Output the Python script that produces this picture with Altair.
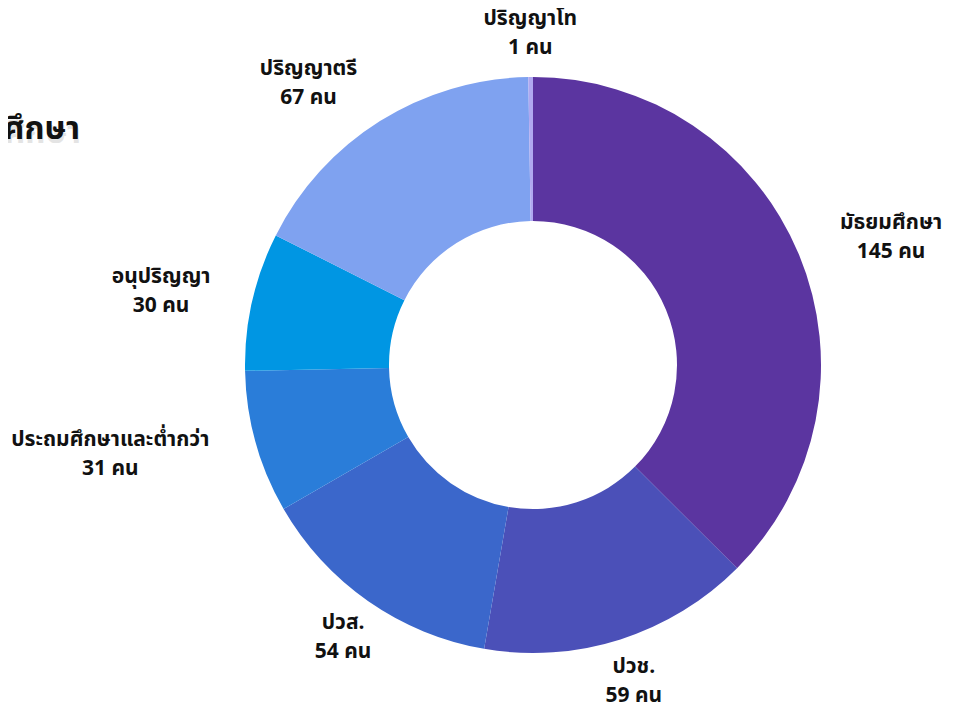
import unicodedata
import altair as alt
import pandas as pd

# ---- data ----
categories = ["มัธยมศึกษา", "ปวช.", "ปวส.", "ประถมศึกษาและต่ำกว่า", "อนุปริญญา", "ปริญญาตรี", "ปริญญาโท"]
counts = [145, 59, 54, 31, 30, 67, 1]
colors = ["#5b35a0", "#4b50b8", "#3b67cb", "#2a7dd9", "#0096e3", "#7fa2f0", "#b0a8f0"]
unit = "คน"
title_text = "ระดับการศึกษา"

FONT_SIZE = 21
LINE_H = 29


def est_width(line):
    """Rough rendered width of a text line (for centring lines inside a label block)."""
    w = 0.0
    for ch in line:
        if unicodedata.category(ch) == "Mn":
            continue
        if ch.isdigit():
            w += 11.0
        elif ch == " ":
            w += 5.5
        elif ch in "าะำ.":
            w += 8.5
        elif ch == "ญ":
            w += 16.0
        else:
            w += 12.8
    return w * FONT_SIZE / 20.0


df = pd.DataFrame({"cat": categories, "n": counts, "idx": list(range(len(categories)))})
df["label"] = [f"{c}\n{n} {unit}" for c, n in zip(categories, counts)]
df["w"] = [max(est_width(s) for s in lab.split("\n")) for lab in df["label"]]

CX, CY = 525, 357
R_OUT, R_IN, R_LAB = 288, 144, 332
FONT = "Noto Sans Thai, Noto Sans, sans-serif"

base = alt.Chart(df)

arcs = base.mark_arc(outerRadius=R_OUT, innerRadius=R_IN).encode(
    theta=alt.Theta("n:Q", stack=True),
    order=alt.Order("idx:Q", sort="ascending"),
    color=alt.Color("cat:N", scale=alt.Scale(domain=categories, range=colors), legend=None),
    x=alt.value(CX),
    y=alt.value(CY),
)

labels = (
    base.transform_window(cum="sum(n)", sort=[alt.SortField("idx")], frame=[None, 0])
    .transform_joinaggregate(total="sum(n)")
    .transform_calculate(mid="2*PI*(datum.cum - datum.n/2)/datum.total")
    .transform_calculate(vx="sin(datum.mid)", vy="-cos(datum.mid)")
    .transform_calculate(
        shift="(datum.vy > 0.7 || datum.vy < -0.95) ? 0 : (datum.vx > 0 ? 1 : -1)"
    )
    .transform_calculate(
        lx=f"{CX} + {R_LAB}*datum.vx + datum.shift*datum.w/2",
        ly=f"{CY} + {R_LAB}*datum.vy",
    )
    .mark_text(
        lineBreak="\n", align="center", baseline="middle", fontSize=FONT_SIZE,
        fontWeight="bold", lineHeight=LINE_H, font=FONT, color="#111111", dy=-LINE_H / 2,
    )
    .encode(
        text="label:N",
        x=alt.X("lx:Q", scale=None),
        y=alt.Y("ly:Q", scale=None),
    )
)

tdf = pd.DataFrame({"t": [title_text]})
title_shadow = alt.Chart(tdf).mark_text(
    align="right", baseline="middle", fontSize=32, fontWeight="bold", font=FONT,
    color="#000000", opacity=0.1, dx=1, dy=4,
).encode(text="t:N", x=alt.value(72), y=alt.value(121))
title = alt.Chart(tdf).mark_text(
    align="right", baseline="middle", fontSize=32, fontWeight="bold", font=FONT,
    color="#111111",
).encode(text="t:N", x=alt.value(72), y=alt.value(121))

chart = alt.layer(arcs, title_shadow, title, labels).properties(
    width=937, height=694, padding=0, autosize=alt.AutoSizeParams(type="none"),
).configure_view(stroke=None)

chart.save("out.html", embed_options={"renderer": "svg", "actions": False})
